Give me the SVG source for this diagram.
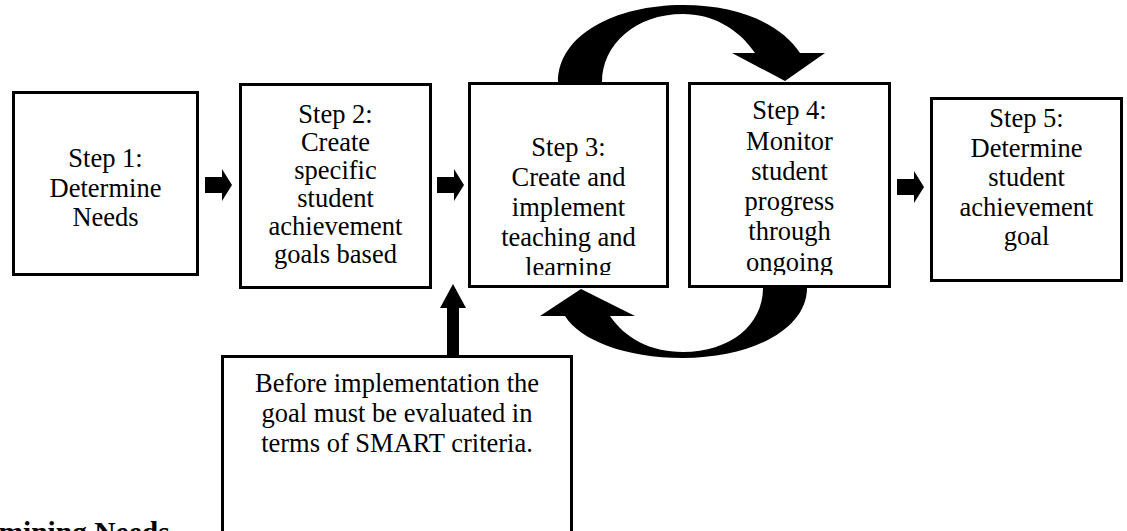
<svg xmlns="http://www.w3.org/2000/svg" width="1127" height="531" viewBox="0 0 1127 531">
<style>
.box{fill:#fff;stroke:#000;stroke-width:3}
.t{font-family:"Liberation Serif","Times New Roman",serif;font-size:26.5px;fill:#000;text-anchor:middle}
.h{font-family:"Liberation Serif","Times New Roman",serif;font-size:29.5px;font-weight:bold;fill:#000}
.c{fill:#000;stroke:none}
</style>
<defs>
<path id="rarrow" d="M0,-8 H17 V-16 L27,0 L17,16 V8 H0 Z"/>
<clipPath id="clip3"><rect x="469" y="84" width="200" height="191"/></clipPath>
<clipPath id="clip4"><rect x="689" y="84" width="202" height="191"/></clipPath>
</defs>
<rect width="1127" height="531" fill="#fff"/>
<g id="connectors">
<use href="#rarrow" class="c" x="205" y="185"/>
<use href="#rarrow" class="c" x="437" y="185"/>
<use href="#rarrow" class="c" x="897" y="187"/>
<path class="c" d="M447,355 V308 H440 L453,284 L466,308 H459 V355 Z"/>
<path class="c" d="M558,82 C558,35 615,5 683,5 C740,5 782,25 800,53 L825,53 L785,81 L732,53 L755,53 C738,28 712,14 683,14 C635,14 602,45 602,82 Z"/>
<path class="c" d="M807,288 C807,330 750,358 683,358 C625,358 580,340 565,316 L540,316 L581,289 L635,316 L610,316 C625,338 650,352 683,352 C730,352 763,325 763,288 Z"/>
</g>
<g id="step1">
<rect class="box" x="13.5" y="92.5" width="184" height="182"/>
<text class="t"><tspan x="105.5" y="167">Step 1:</tspan><tspan x="105.5" y="196.5">Determine</tspan><tspan x="105.5" y="226">Needs</tspan></text>
</g>
<g id="step2">
<rect class="box" x="240.5" y="84.5" width="190" height="203"/>
<text class="t"><tspan x="335.5" y="123">Step 2:</tspan><tspan x="335.5" y="151">Create</tspan><tspan x="335.5" y="179">specific</tspan><tspan x="335.5" y="207">student</tspan><tspan x="335.5" y="235">achievement</tspan><tspan x="335.5" y="263">goals based</tspan></text>
</g>
<g id="step3">
<rect class="box" x="469.5" y="83.5" width="198" height="203"/>
<text class="t" clip-path="url(#clip3)"><tspan x="568.5" y="156">Step 3:</tspan><tspan x="568.5" y="186">Create and</tspan><tspan x="568.5" y="216">implement</tspan><tspan x="568.5" y="246">teaching and</tspan><tspan x="568.5" y="276">learning</tspan></text>
</g>
<g id="step4">
<rect class="box" x="689.5" y="83.5" width="200" height="203"/>
<text class="t" clip-path="url(#clip4)"><tspan x="789.5" y="119">Step 4:</tspan><tspan x="789.5" y="150">Monitor</tspan><tspan x="789.5" y="180">student</tspan><tspan x="789.5" y="210">progress</tspan><tspan x="789.5" y="240">through</tspan><tspan x="789.5" y="271">ongoing</tspan></text>
</g>
<g id="step5">
<rect class="box" x="931.5" y="98.5" width="190" height="182"/>
<text class="t"><tspan x="1026.5" y="127">Step 5:</tspan><tspan x="1026.5" y="156.5">Determine</tspan><tspan x="1026.5" y="186">student</tspan><tspan x="1026.5" y="215.5">achievement</tspan><tspan x="1026.5" y="245">goal</tspan></text>
</g>
<g id="smart">
<rect class="box" x="222.5" y="356.5" width="349" height="200"/>
<text class="t"><tspan x="397" y="392">Before implementation the</tspan><tspan x="397" y="422">goal must be evaluated in</tspan><tspan x="397" y="452">terms of SMART criteria.</tspan></text>
</g>
<text class="h" x="-72" y="542">Determining Needs</text>
</svg>
